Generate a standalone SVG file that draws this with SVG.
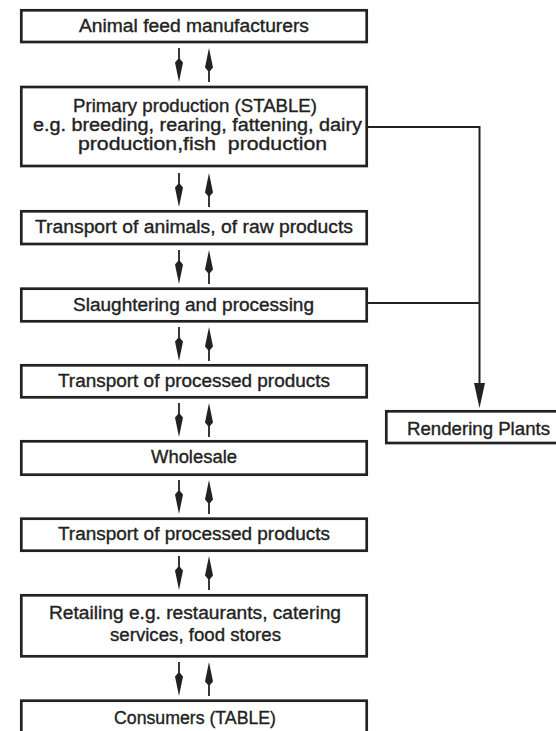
<svg xmlns="http://www.w3.org/2000/svg" xmlns:xlink="http://www.w3.org/1999/xlink" width="556" height="731" viewBox="0 0 556 731">
  <style>
    .box { fill: #ffffff; stroke: #222222; stroke-width: 2.7; }
    .lbl { font-family: "Liberation Sans", Arial, sans-serif; font-size: 18px; fill: #222222; stroke: #222222; stroke-width: 0.35; text-anchor: middle; }
    .conn { fill: none; stroke: #222222; stroke-width: 2; }
    .head { fill: #222222; stroke: none; }
  </style>
  <defs>
    <g id="pair">
      <rect x="178.1" y="0" width="1.8" height="12" class="head"/>
      <path class="head" d="M178,11 L175,14.5 L179,34 L183,14.5 L180,11 Z"/>
      <path class="head" d="M209,0 L205,19.5 L208,23 L210,23 L213,19.5 Z"/>
      <rect x="208.1" y="22" width="1.8" height="12" class="head"/>
    </g>
  </defs>
  <rect width="556" height="731" fill="#ffffff"/>

  <g id="connectors">
    <use xlink:href="#pair" href="#pair" y="48"/>
    <use xlink:href="#pair" href="#pair" y="173"/>
    <use xlink:href="#pair" href="#pair" y="250"/>
    <use xlink:href="#pair" href="#pair" y="327"/>
    <use xlink:href="#pair" href="#pair" y="403"/>
    <use xlink:href="#pair" href="#pair" y="480"/>
    <use xlink:href="#pair" href="#pair" y="556"/>
    <use xlink:href="#pair" href="#pair" y="662"/>
    <path class="conn" d="M367,127 H479.5 V386"/>
    <path class="conn" d="M367,303 H479.5"/>
    <path class="head" d="M474,383 L485,383 L479.5,408 Z"/>
  </g>

  <g id="n1">
    <rect class="box" x="21.3" y="10.3" width="345.4" height="31.7"/>
    <text class="lbl" x="194" y="31.5" textLength="230" lengthAdjust="spacingAndGlyphs">Animal feed manufacturers</text>
  </g>
  <g id="n2">
    <rect class="box" x="21.3" y="87" width="345.4" height="79"/>
    <text class="lbl" x="195" y="111.5" textLength="244" lengthAdjust="spacingAndGlyphs">Primary production (STABLE)</text>
    <text class="lbl" x="197.5" y="130.5" textLength="329" lengthAdjust="spacingAndGlyphs">e.g. breeding, rearing, fattening, dairy</text>
    <text class="lbl" x="202.5" y="149.5" textLength="249" lengthAdjust="spacingAndGlyphs" xml:space="preserve">production,fish  production</text>
  </g>
  <g id="n3">
    <rect class="box" x="21.3" y="211.3" width="345.4" height="32.7"/>
    <text class="lbl" x="194" y="233" textLength="318" lengthAdjust="spacingAndGlyphs">Transport of animals, of raw products</text>
  </g>
  <g id="n4">
    <rect class="box" x="21.3" y="288.7" width="345.4" height="32.6"/>
    <text class="lbl" x="193.5" y="310.5" textLength="241" lengthAdjust="spacingAndGlyphs">Slaughtering and processing</text>
  </g>
  <g id="n5">
    <rect class="box" x="21.3" y="365.3" width="345.4" height="32"/>
    <text class="lbl" x="194" y="386.5" textLength="272" lengthAdjust="spacingAndGlyphs">Transport of processed products</text>
  </g>
  <g id="n6">
    <rect class="box" x="21.3" y="441.3" width="345.4" height="33.4"/>
    <text class="lbl" x="194" y="463.3" textLength="86" lengthAdjust="spacingAndGlyphs">Wholesale</text>
  </g>
  <g id="n7">
    <rect class="box" x="21.3" y="518.7" width="345.4" height="32"/>
    <text class="lbl" x="194" y="540" textLength="272" lengthAdjust="spacingAndGlyphs">Transport of processed products</text>
  </g>
  <g id="n8">
    <rect class="box" x="21.3" y="595.3" width="345.4" height="61"/>
    <text class="lbl" x="195" y="619.3" textLength="292" lengthAdjust="spacingAndGlyphs">Retailing e.g. restaurants, catering</text>
    <text class="lbl" x="195.5" y="640.7" textLength="171" lengthAdjust="spacingAndGlyphs">services, food stores</text>
  </g>
  <g id="n9">
    <rect class="box" x="21.3" y="700.7" width="345.4" height="45"/>
    <text class="lbl" x="195" y="724" textLength="162" lengthAdjust="spacingAndGlyphs">Consumers (TABLE)</text>
  </g>
  <g id="n10">
    <rect class="box" x="386.3" y="411.3" width="185" height="31.7"/>
    <text class="lbl" x="478.5" y="434.5" textLength="143" lengthAdjust="spacingAndGlyphs">Rendering Plants</text>
  </g>
</svg>
